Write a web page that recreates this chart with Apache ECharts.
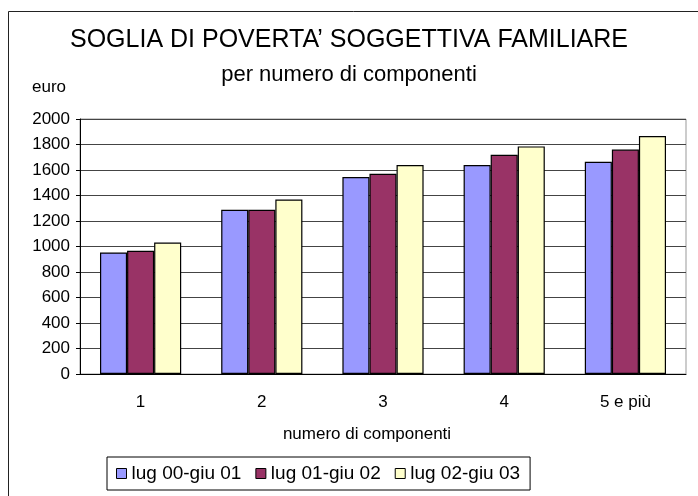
<!DOCTYPE html>
<html>
<head>
<meta charset="utf-8">
<script src="https://cdn.jsdelivr.net/npm/echarts@6/dist/echarts.min.js"></script>
<style>
html,body{margin:0;padding:0;background:#fff;}
#main{width:698px;height:496px;}
</style>
</head>
<body>
<div id="main"></div>
<script>
// dati
var categorie = ['1', '2', '3', '4', '5 e più'];
var serieNomi = ['lug 00-giu 01', 'lug 01-giu 02', 'lug 02-giu 03'];
var lug0001 = [953, 1288, 1545, 1639, 1665];
var lug0102 = [966, 1288, 1571, 1720, 1760];
var lug0203 = [1031, 1369, 1639, 1785, 1867];
var colori = ['#9999FF', '#993366', '#FFFFCC'];

var font = 'Liberation Sans, Arial, sans-serif';

var chart = echarts.init(document.getElementById('main'));

var barra = function(nome, dati, colore){
    return {
        name: nome,
        type: 'bar',
        data: dati,
        barGap: '0%',
        barCategoryGap: '33%',
        itemStyle: {color: colore, borderColor: '#000', borderWidth: 1.2}
    };
};

chart.setOption({
    animation: false,
    textStyle: {fontFamily: font},
    title: [
        {text: 'SOGLIA DI POVERTA\u2019 SOGGETTIVA FAMILIARE', left: 'center', top: 23,
         padding: [5, 14, 5, 0],
         textStyle: {fontSize: 25, fontWeight: 'normal', color: '#000', fontFamily: font}},
        {text: 'per numero di componenti', left: 'center', top: 59,
         padding: [5, 0, 5, 10],
         textStyle: {fontSize: 22, fontWeight: 'normal', color: '#000', fontFamily: font}},
        {text: 'euro', left: 27, top: 74,
         textStyle: {fontSize: 17, fontWeight: 'normal', color: '#000', fontFamily: font}}
    ],
    graphic: [{
        type: 'rect',
        shape: {x: 8.5, y: 11.5, width: 700, height: 500},
        style: {fill: 'none', stroke: '#222', lineWidth: 1},
        silent: true
    }],
    legend: {
        data: serieNomi,
        left: 107,
        top: 457,
        orient: 'horizontal',
        itemWidth: 10,
        itemHeight: 10,
        itemGap: 14,
        padding: [7, 10, 7, 9],
        borderColor: '#000',
        borderWidth: 1,
        borderRadius: 0,
        icon: 'rect',
        itemStyle: {borderColor: '#000', borderWidth: 1},
        textStyle: {fontSize: 19, color: '#000', fontFamily: font}
    },
    grid: {
        left: 80, right: 12, top: 119, bottom: 122,
        show: true, borderColor: '#999', borderWidth: 1
    },
    xAxis: {
        type: 'category',
        data: categorie,
        name: 'numero di componenti',
        nameLocation: 'middle',
        nameGap: 52,
        nameTextStyle: {fontSize: 17, color: '#000', padding: [0, 32, 0, 0]},
        axisLine: {lineStyle: {color: '#000', width: 1}},
        axisTick: {inside: true, length: 4, lineStyle: {color: '#000'}},
        axisLabel: {fontSize: 17, color: '#000', margin: 20}
    },
    yAxis: {
        type: 'value',
        min: 0,
        max: 2000,
        interval: 200,
        axisLine: {show: true, lineStyle: {color: '#000', width: 1}},
        axisTick: {show: true, length: 4, lineStyle: {color: '#000'}},
        axisLabel: {fontSize: 17, color: '#000', margin: 10, formatter: function(v){ return String(v); }},
        splitLine: {lineStyle: {color: '#444', width: 1}}
    },
    series: [
        barra(serieNomi[0], lug0001, colori[0]),
        barra(serieNomi[1], lug0102, colori[1]),
        barra(serieNomi[2], lug0203, colori[2])
    ]
});
</script>
</body>
</html>
